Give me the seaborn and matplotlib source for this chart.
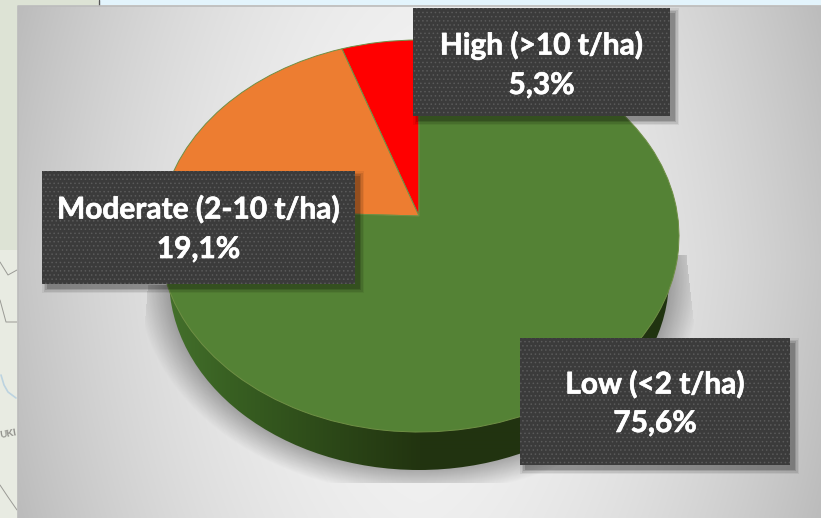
import numpy as np
import matplotlib
matplotlib.use("Agg")
import matplotlib.pyplot as plt
import matplotlib.patheffects as pe
from matplotlib.patches import Rectangle, Ellipse
from matplotlib.transforms import Transform
import seaborn as sns

categories = ["High (>10 t/ha)", "Moderate (2-10 t/ha)", "Low (<2 t/ha)"]
values = [5.3, 19.1, 75.6]
value_labels = ["5,3%", "19,1%", "75,6%"]
colors = ["#FF0000", "#ED7D31", "#548235"]

sns.set_theme(style="white")
plt.rcParams["font.family"] = ["Lato", "DejaVu Sans"]
plt.rcParams["hatch.linewidth"] = 0.6

W, H = 821, 518
fig = plt.figure(figsize=(W / 100, H / 100), dpi=100, facecolor="#e8ebe2")
ax = fig.add_axes([0, 0, 1, 1])

CX, CY, A, B, T = 419.0, 236.0, 260.0, 196.0, 0.102


class Perspective(Transform):
    """Tilted disc: keeps the rim an ellipse while the apex sits above its centre."""
    input_dims = 2
    output_dims = 2
    is_affine = False
    has_inverse = False

    def transform_non_affine(self, xy):
        xy = np.asarray(xy, dtype=float)
        u, v = xy[:, 0], xy[:, 1]
        d = 1 + T * v
        return np.column_stack([CX + A * u * np.sqrt(1 - T * T) / d,
                                CY - B * (v + T) / d])


# Pie top face, drawn first because pie() resets the axes
wedges, _ = ax.pie(values, colors=sns.color_palette(colors), startangle=90, counterclock=True,
                   wedgeprops=dict(edgecolor="#6f8f45", linewidth=0.7, zorder=4))
persp = Perspective()
for w in wedges:
    w.set_transform(persp + ax.transData)

# Panel gradient background
xx, yy = np.meshgrid(np.arange(18, W) + 0.5, np.arange(6, H) + 0.5)
dx = np.abs(xx - 420) / 402
dy = np.abs(yy - 262) / 256
bg = 0.955 - 0.18 * dx ** 1.9 - 0.02 * dy ** 2 - 0.02 * (dx * dy)
ax.imshow(np.dstack([bg, bg, bg]), extent=(18, W, H, 6), zorder=1, interpolation="bilinear")

# Surrounding page strips
ax.add_patch(Rectangle((0, 0), 18, 250, fc="#dde3d5", ec="none", zorder=0.5))
ax.add_patch(Rectangle((0, 0), 98, 6, fc="#dde3d5", ec="none", zorder=0.5))
ax.add_patch(Rectangle((100, 0), W - 100, 5, fc="#e3f4fc", ec="none", zorder=0.5))
ax.plot([98.5, 98.5], [0, 6], color="#555555", lw=1, zorder=0.6)
ax.plot([18, 18, W], [H, 6, 6], color="#bcbcbc", lw=1.2, zorder=1.5)
ax.plot([0, 8, 17], [262, 275, 270], color="#9a9a95", lw=0.7, zorder=0.6)
ax.plot([0, 6, 17], [300, 322, 322], color="#9a9a95", lw=0.7, zorder=0.6)
ax.plot([0, 8, 17], [485, 497, 510], color="#9a9a95", lw=0.7, zorder=0.6)
ax.plot([1, 4, 8, 16], [375, 385, 392, 398], color="#bcd3e0", lw=1.2, zorder=0.6)
ax.text(-1, 434, "UKI", fontsize=7, color="#8f8f8a", rotation=10, va="center", ha="left",
        fontweight="bold", zorder=0.7)

# Soft shadow below the pie
r = np.sqrt(((xx - 419) / 250) ** 2 + ((yy - 278) / 192) ** 2)
sh = np.clip((1.13 - r) / 0.13, 0, 1) * 0.3
sh[(yy > 483) | (yy < 285) & (xx < 400) | (yy < 255)] = 0
left_lim = 148 - (yy - 285) * 0.08
right_lim = 687 + (yy - 260) * 0.11
sh[(xx < left_lim) | (xx > right_lim)] = 0
ax.imshow(np.dstack([np.zeros_like(sh), np.zeros_like(sh), np.zeros_like(sh), sh]),
          extent=(18, W, H, 6), zorder=2, interpolation="bilinear")

# Pie side wall with horizontal shading
side_clip = Ellipse((419, 278), 500, 384, transform=ax.transData)
stops_x = [160, 230, 340, 420, 680]
stops_c = np.array([[0x46, 0x72, 0x2d], [0x38, 0x60, 0x22], [0x2b, 0x46, 0x17],
                    [0x22, 0x34, 0x10], [0x20, 0x33, 0x10]]) / 255
gx = np.arange(160, 681) + 0.5
grad = np.column_stack([np.interp(gx, stops_x, stops_c[:, i]) for i in range(3)])[None, :, :]
im = ax.imshow(grad, extent=(160, 681, 480, 220), zorder=3, aspect="auto", interpolation="bilinear")
im.set_clip_path(side_clip)

# Data label boxes
boxes = [(413, 8, 670, 116), (42, 171, 355, 284), (520, 338, 790, 465)]
line_y = [(45, 85), (209, 249), (384, 423)]
stroke = [pe.withStroke(linewidth=0.5, foreground="white")]
for (x0, y0, x1, y1), name, val, (ya, yb) in zip(boxes, categories, value_labels, line_y):
    for k, alpha in zip([5, 3.5, 2, 0.5], [0.06, 0.09, 0.12, 0.16]):
        ax.add_patch(Rectangle((x0 + 5 - k, y0 + 5 - k), x1 - x0 + 2 * k - 1, y1 - y0 + 2 * k - 1,
                               fc="black", ec="none", alpha=alpha, zorder=5))
    ax.add_patch(Rectangle((x0, y0), x1 - x0, y1 - y0, fc="#3b3b3b", ec="none", zorder=6))
    ax.add_patch(Rectangle((x0, y0), x1 - x0, y1 - y0, fc="none", ec="#5a5a5a", lw=0,
                           hatch="....", zorder=6.1))
    cx = (x0 + x1) / 2
    ax.text(cx, ya, name, color="white", fontsize=21.5, fontweight="bold",
            ha="center", va="center", zorder=7, path_effects=stroke)
    ax.text(cx, yb, val, color="white", fontsize=21.5, fontweight="bold",
            ha="center", va="center", zorder=7, path_effects=stroke)

ax.set_aspect("auto")
ax.set_xlim(0, W)
ax.set_ylim(H, 0)
ax.axis("off")
fig.savefig("out.png", dpi=100, facecolor=fig.get_facecolor())
